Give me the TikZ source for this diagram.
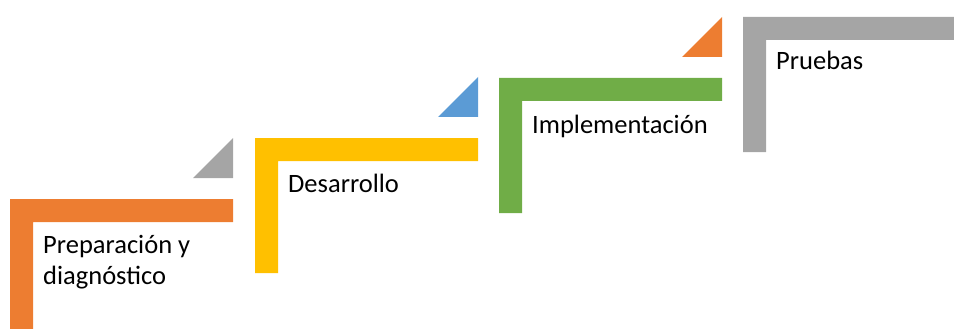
\documentclass[tikz,border=0pt]{standalone}
\usepackage{fontspec}
\setmainfont{Carlito}
\definecolor{corange}{HTML}{ED7D31}
\definecolor{cgray}{HTML}{A5A5A5}
\definecolor{cyellow}{HTML}{FFC000}
\definecolor{cblue}{HTML}{5B9BD5}
\definecolor{cgreen}{HTML}{70AD47}
\tikzset{
  lshape/.pic={\fill (0,0) -- (223,0) -- (223,23) -- (23,23) -- (23,135) -- (0,135) -- cycle;},
  tri/.pic={\fill (223,-61) -- (223,-21) -- (183,-21) -- cycle;},
  steptext/.style={anchor=base west, inner sep=0pt, font=\fontsize{26.5}{31}\selectfont, text=black}
}
\begin{document}
\begin{tikzpicture}[x=1pt,y=-1pt]
\useasboundingbox (0,0) rectangle (954,329);
\clip (0,0) rectangle (954,329);
% step 1
\pic[fill=corange] at (10,199) {lshape};
\pic[fill=cgray] at (10,199) {tri};
\node[steptext] (t1a) at (43,253) {Preparación y};
\node[steptext] (t1b) at (43,284) {diagnóstico};
% step 2
\pic[fill=cyellow] at (255,138) {lshape};
\pic[fill=cblue] at (255,138) {tri};
\node[steptext] (t2) at (288,192) {Desarrollo};
% step 3
\pic[fill=cgreen] at (499,78) {lshape};
\pic[fill=corange] at (499,78) {tri};
\node[steptext] (t3) at (532,133) {Implementación};
% step 4
\pic[fill=cgray] at (743,17) {lshape};
\node[steptext] (t4) at (776,70) {Pruebas};
\end{tikzpicture}
\end{document}
